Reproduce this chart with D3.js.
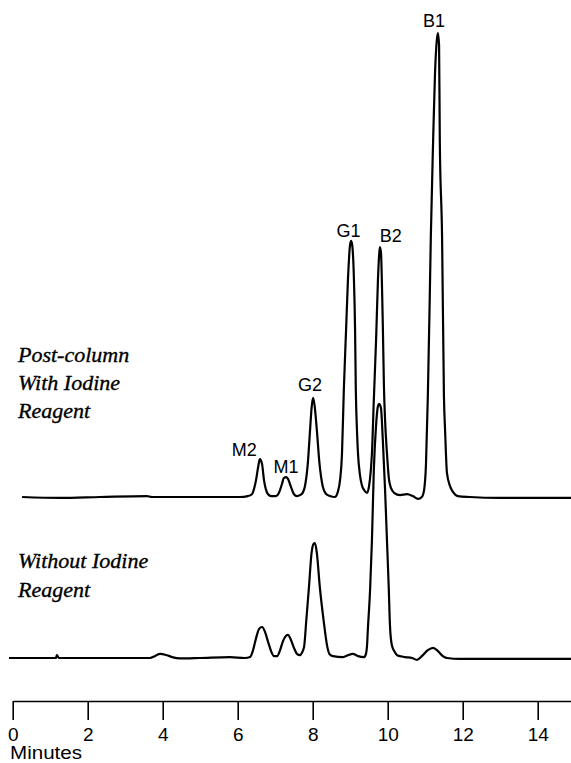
<!DOCTYPE html>
<html>
<head>
<meta charset="utf-8">
<script src="https://cdn.jsdelivr.net/npm/d3@7/dist/d3.min.js"></script>
<style>
  html, body { margin: 0; padding: 0; background: #fff; }
  svg { display: block; }
</style>
</head>
<body>
<svg id="chart" width="571" height="763"></svg>
<script>
// ---------------- DATA ----------------
// Upper trace: post-column with iodine reagent (time in minutes, relative response)
const upperTime = [0.25,1.26,2.33,3.58,3.71,4.99,6.06,6.27,6.38,6.44,6.49,6.55,6.59,6.65,6.70,6.75,6.81,6.89,7.02,7.10,7.18,7.23,7.29,7.34,7.42,7.50,7.58,7.66,7.74,7.79,7.87,7.93,7.97,8.01,8.05,8.11,8.18,8.27,8.35,8.46,8.59,8.67,8.73,8.78,8.83,8.89,8.94,8.99,9.02,9.05,9.10,9.13,9.15,9.18,9.21,9.26,9.31,9.37,9.45,9.50,9.55,9.58,9.63,9.69,9.74,9.77,9.79,9.82,9.85,9.87,9.90,9.93,9.98,10.03,10.09,10.17,10.33,10.51,10.67,10.81,10.91,10.97,11.02,11.07,11.12,11.15,11.21,11.26,11.31,11.34,11.37,11.39,11.45,11.50,11.53,11.58,11.66,11.74,11.87,12.19,12.99,14.06,14.89];
const upperSignal = [0,-0.2,0,0.2,0,0,0,0.2,0.6,1.9,3.7,6.7,8.2,7.1,3.7,1.7,0.6,0.2,0.2,0.9,2.8,4.1,4.3,3.9,2.2,0.6,0.2,0.4,1.0,2.2,7.3,14.5,19.2,21.4,19.8,14.5,7.3,2.2,0.7,0.2,0,1.1,3.7,9.1,23.1,36.1,46.9,54.0,55.3,54.6,46.9,36.1,23.1,14.5,9.1,4.8,2.6,1.5,0.9,2.2,5.8,9.5,21.0,33.9,46.9,52.1,54.0,52.9,44.7,37.1,23.8,16.6,9.5,4.1,1.9,0.9,0.4,0.6,0.2,-0.4,0,1.5,6.9,21.6,42.5,56.2,76.5,91.1,98.7,100.2,97.6,76.5,56.2,21.6,14.5,5.2,2.4,1.1,0.2,0,-0.2,-0.2,-0.2];

// Lower trace: without iodine reagent
const lowerTime = [-0.10,0.73,1.15,1.18,1.23,1.79,2.86,3.66,3.79,3.93,4.11,4.25,4.46,4.99,5.79,6.19,6.33,6.41,6.49,6.57,6.65,6.73,6.81,6.89,6.97,7.05,7.13,7.21,7.29,7.34,7.42,7.50,7.58,7.66,7.71,7.77,7.83,7.90,7.97,8.02,8.06,8.11,8.19,8.29,8.39,8.45,8.54,8.81,8.94,9.07,9.21,9.37,9.42,9.45,9.47,9.53,9.58,9.63,9.69,9.74,9.77,9.82,9.87,9.93,9.98,10.03,10.06,10.11,10.19,10.25,10.46,10.65,10.78,10.91,11.07,11.21,11.34,11.47,11.58,11.93,12.73,13.53,14.33,14.89];
const lowerSignal = [0,0,0,0.6,0,0,0,0,0.4,0.9,0.6,0.2,-0.1,0,0.2,0,0.2,1.7,4.3,6.3,6.7,5.6,3.5,1.5,0.4,0.4,1.7,3.7,4.8,5.0,3.9,2.2,0.9,0.6,1.1,2.4,8.2,15.3,22.7,24.6,24.8,22.7,15.3,8.2,2.4,0.8,0.4,0.2,0.6,0.9,0.4,0.2,0.9,2.8,6.0,14.7,25.5,40.6,50.3,54.4,54.9,54.0,47.1,36.3,25.5,14.7,7.1,2.8,1.3,0.6,0.2,0,-0.4,0.4,1.7,2.2,1.5,0.4,0,-0.2,-0.2,-0.2,-0.2,-0.2];

// Peak labels on the upper trace
const peakNames = ["M2","M1","G2","G1","B2","B1"];
const peakTimes = [6.59,7.29,8.01,9.02,9.79,11.34];

// Axis
const tickValues = [0,2,4,6,8,10,12,14];
const axisTitle = "Minutes";

// Trace annotations
const upperLabel = ["Post-column","With Iodine","Reagent"];
const lowerLabel = ["Without Iodine","Reagent"];

// ---------------- LAYOUT ----------------
const layout = {
  x0: 12.7, pxPerMin: 37.5,
  upperBase: 497, lowerBase: 658, fullHeight: 463,
  axisY: 701, tickLen: 19,
  // label offsets relative to the peak apex (dx, dy to baseline)
  peakLabelOffsets: [[-15.5,-3],[0,-4],[-3,-7],[-2.5,-4],[11,-5],[-4,-6]]
};

const svg = d3.select("#chart");

const x = d3.scaleLinear()
  .domain([0, 15])
  .range([layout.x0, layout.x0 + 15 * layout.pxPerMin]);

const yUpper = d3.scaleLinear().domain([0, 100])
  .range([layout.upperBase, layout.upperBase - layout.fullHeight]);
const yLower = d3.scaleLinear().domain([0, 100])
  .range([layout.lowerBase, layout.lowerBase - layout.fullHeight]);

const upperData = upperTime.map((t, i) => ({ t, v: upperSignal[i] }));
const lowerData = lowerTime.map((t, i) => ({ t, v: lowerSignal[i] }));

const lineUpper = d3.line().x(d => x(d.t)).y(d => yUpper(d.v)).curve(d3.curveMonotoneX);
const lineLower = d3.line().x(d => x(d.t)).y(d => yLower(d.v)).curve(d3.curveMonotoneX);

svg.append("path").datum(lowerData)
  .attr("d", lineLower)
  .attr("fill", "none").attr("stroke", "#000")
  .attr("stroke-width", 2.2).attr("stroke-linejoin", "round");

svg.append("path").datum(upperData)
  .attr("d", lineUpper)
  .attr("fill", "none").attr("stroke", "#000")
  .attr("stroke-width", 2.2).attr("stroke-linejoin", "round");

// Peak labels
peakNames.forEach((name, i) => {
  const t = peakTimes[i];
  let best = 0;
  upperTime.forEach((tt, j) => { if (Math.abs(tt - t) < Math.abs(upperTime[best] - t)) best = j; });
  const off = layout.peakLabelOffsets[i];
  svg.append("text")
    .attr("x", x(t) + off[0])
    .attr("y", yUpper(upperSignal[best]) + off[1])
    .attr("text-anchor", "middle")
    .attr("font-family", "'Liberation Sans', Arial, sans-serif")
    .attr("font-size", 18)
    .attr("fill", "#000")
    .text(name);
});

// Trace annotations (italic serif)
function addLines(lines, x0, y0, lh) {
  lines.forEach((s, i) => {
    svg.append("text")
      .attr("x", x0).attr("y", y0 + i * lh)
      .attr("font-family", "'Liberation Serif', 'Times New Roman', serif")
      .attr("font-style", "italic")
      .attr("font-size", 22)
      .attr("fill", "#000")
      .attr("stroke", "#000")
      .attr("stroke-width", 0.35)
      .text(s);
  });
}
addLines(upperLabel, 18, 362, 28);
addLines(lowerLabel, 18, 568, 29);

// X axis
const axis = d3.axisBottom(x)
  .tickValues(tickValues)
  .tickFormat(d3.format("d"))
  .tickSize(layout.tickLen)
  .tickSizeOuter(0)
  .tickPadding(8);

const gAxis = svg.append("g")
  .attr("transform", `translate(0,${layout.axisY})`)
  .call(axis);
gAxis.select(".domain").attr("stroke", "#000").attr("stroke-width", 1.6);
gAxis.selectAll(".tick line").attr("stroke", "#000").attr("stroke-width", 1.6);
gAxis.selectAll(".tick text")
  .attr("font-family", "'Liberation Sans', Arial, sans-serif")
  .attr("font-size", 19)
  .attr("fill", "#000");

svg.append("text")
  .attr("x", 10).attr("y", 759)
  .attr("font-family", "'Liberation Sans', Arial, sans-serif")
  .attr("font-size", 18)
  .attr("textLength", 72)
  .attr("lengthAdjust", "spacingAndGlyphs")
  .attr("fill", "#000")
  .text(axisTitle);
</script>
</body>
</html>
